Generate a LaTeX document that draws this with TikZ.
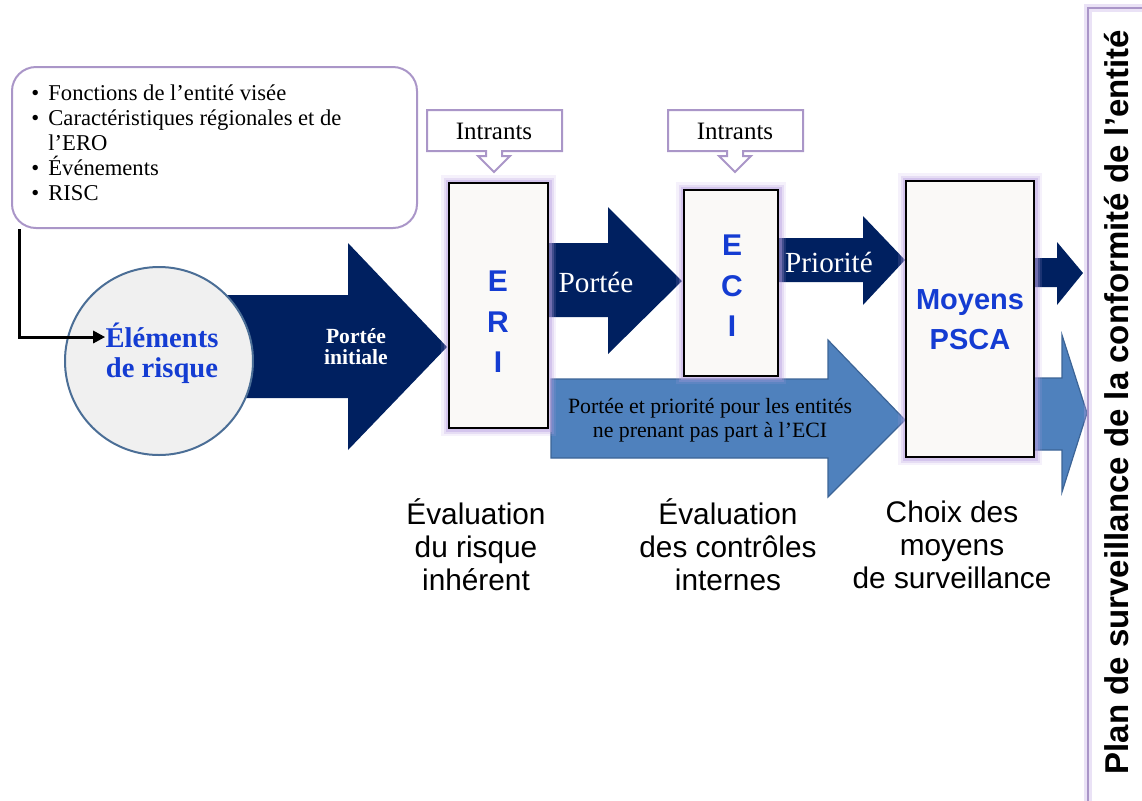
\documentclass[tikz,border=0pt]{standalone}
\usepackage{fontspec}
\setmainfont{Liberation Serif}
\setsansfont{Liberation Sans}
\usetikzlibrary{arrows.meta}
\definecolor{marine}{RGB}{0,32,96}
\definecolor{bleuclair}{RGB}{79,129,189}
\definecolor{bleubord}{RGB}{60,100,150}
\definecolor{lavande}{RGB}{170,150,200}
\definecolor{lilas}{RGB}{185,160,225}
\definecolor{bleutexte}{RGB}{20,60,210}
\definecolor{fondboite}{RGB}{250,249,247}
\definecolor{gris}{RGB}{240,240,240}
\definecolor{bordcercle}{RGB}{75,110,150}

\begin{document}
\begin{tikzpicture}[x=0.5pt,y=-0.5pt,
  boite/.style={draw=black,line width=1.1pt,fill=fondboite,
    preaction={draw=lilas,line width=8pt,opacity=.15},
    preaction={draw=lilas,line width=5.5pt,opacity=.25},
    preaction={draw=lilas,line width=3.5pt,opacity=.4}},
  lettre/.style={text=bleutexte,font=\sffamily\bfseries\fontsize{15}{18}\selectfont},
  legende/.style={align=center,font=\sffamily\fontsize{14.9}{16.5}\selectfont},
  dansfleche/.style={text=white,font=\fontsize{14.6}{16}\selectfont}]
  \useasboundingbox (0,0) rectangle (1142,800);

  \node[draw=lavande,line width=1pt,rounded corners=12pt,minimum width=202.5pt,minimum height=80.5pt]
        (liste) at (214.5,147.5) {};
  \node[anchor=north west,inner sep=0pt,align=left,font=\fontsize{11.3}{12.5}\selectfont]
        (listetxt) at (31,84)
        {\makebox[8.5pt][l]{\textbullet}Fonctions de l’entité visée\\
         \makebox[8.5pt][l]{\textbullet}Caractéristiques régionales et de\\
         \hspace*{8.5pt}l’ERO\\
         \makebox[8.5pt][l]{\textbullet}Événements\\
         \makebox[8.5pt][l]{\textbullet}RISC};

  \foreach \cx/\n in {494/1,735/2}
    {\draw[lavande,line width=1pt,fill=white] ({\cx-67},110) -- ({\cx+68},110) -- ({\cx+68},151)
        -- ({\cx+8},151) -- ({\cx+8},156) -- ({\cx+16},156) -- (\cx,172) -- ({\cx-16},156)
        -- ({\cx-8},156) -- ({\cx-8},151) -- ({\cx-67},151) -- cycle;
     \node[font=\fontsize{12.5}{14}\selectfont] (intrants\n) at (\cx,131) {Intrants};}

  \fill[marine] (220,295) -- (348,295) -- (348,243) -- (447,347) -- (348,450) -- (348,398) -- (220,398) -- cycle;
  \fill[marine] (540,243) -- (608,243) -- (608,207) -- (682,281) -- (608,354) -- (608,317) -- (540,317) -- cycle;
  \fill[marine] (770,238) -- (863,238) -- (863,216) -- (905,260) -- (863,305) -- (863,282) -- (770,282) -- cycle;
  \fill[marine] (1030,258) -- (1057,258) -- (1057,242) -- (1083,273) -- (1057,305) -- (1057,287) -- (1030,287) -- cycle;
  \filldraw[fill=bleuclair,draw=bleubord,line width=0.6pt]
    (551,379) -- (828,379) -- (828,340) -- (905,420) -- (828,497) -- (828,458) -- (551,458) -- cycle;
  \filldraw[fill=bleuclair,draw=bleubord,line width=0.6pt]
    (1030,378) -- (1062,378) -- (1062,335) -- (1087,413) -- (1062,492) -- (1062,450) -- (1030,450) -- cycle;

  \node[circle,draw=bordcercle,line width=1pt,fill=gris,minimum size=94pt] (elem) at (159,361) {};
  \node[text=bleutexte,align=center,inner sep=0pt,font=\bfseries\fontsize{14.3}{15}\selectfont]
        (elemtxt) at (162,353) {Éléments\\de risque};
  \coordinate (fin) at ([yshift=8pt]elemtxt.west);
  \draw[line width=1.5pt,-{Triangle[length=6pt,width=6pt]}] ([xshift=4pt]liste.south west) |- (fin);

  \node[text=white,align=center,font=\bfseries\fontsize{10.8}{10.5}\selectfont] (initiale) at (356,347) {Portée\\initiale};
  \node[dansfleche] (portee) at (596,282) {Portée};
  \node[dansfleche] (priorite) at (829,262) {Priorité};
  \node[align=center,font=\fontsize{10.9}{12}\selectfont] (autres) at (710,420)
        {Portée et priorité pour les entités\\ne prenant pas part à l’ECI};

  \node[boite,minimum width=49.5pt,minimum height=122.5pt] (eri) at (498.5,305.5) {};
  \node[boite,minimum width=47pt,minimum height=93pt] (eci) at (731,283) {};
  \node[boite,minimum width=64pt,minimum height=138pt] (psca) at (970,319) {};

  \foreach \l/\y in {E/281,R/322,I/362}
    \node[lettre] (eri\l) at (498,\y) {\l};
  \foreach \l/\y in {E/245,C/286,I/326}
    \node[lettre] (eci\l) at (732,\y) {\l};
  \node[lettre,align=center,font=\sffamily\bfseries\fontsize{14.5}{20}\selectfont] (moyens) at (970,320) {Moyens\\PSCA};

  \node[legende] (leg1) at (476,545) {Évaluation\\du risque\\inhérent};
  \node[legende] (leg2) at (728,545) {Évaluation\\des contrôles\\internes};
  \node[legende] (leg3) at (952,545) {Choix des\\moyens\\de surveillance};

  \draw[lavande,line width=1pt,preaction={draw=lilas,line width=4pt,opacity=.3}] (1088,8) rectangle (1170,830);
  \node[rotate=90,font=\sffamily\bfseries\fontsize{16.5}{18}\selectfont] (plan) at (1117,402)
        {Plan de surveillance de la conformité de l’entité};
\end{tikzpicture}
\end{document}
